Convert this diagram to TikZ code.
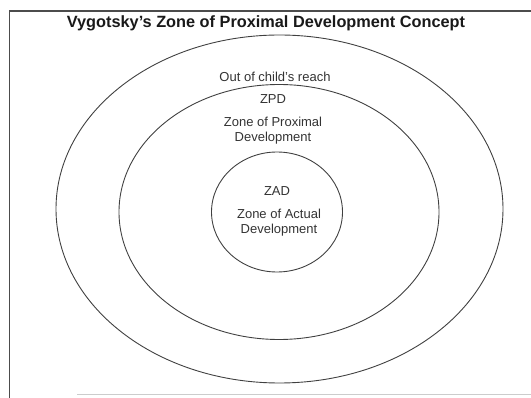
\documentclass[tikz,border=0pt]{standalone}
\usepackage{fontspec}
\setmainfont{Liberation Sans}
\begin{document}
\begin{tikzpicture}[x=1pt,y=1pt,yscale=-1,xscale=1,
    ring/.style={draw=black!75, line width=0.9pt},
    zonetext/.style={text=black!80, font=\fontsize{13}{15}\selectfont, align=center, inner sep=0.75pt},
    headtext/.style={text=black!90, font=\fontsize{16.3}{19}\selectfont\bfseries, inner sep=0.75pt}]
    \useasboundingbox (0,0) rectangle (531,398);

    %Shape: Frame
    \draw [black!70, line width=1.2pt] (531,11) -- (9.5,11) -- (9.5,398) ;
    \draw [black!20, line width=1pt] (77,395) -- (531,395) ;

    %Shape: Ellipse (out of reach)
    \draw [ring] (279.5,209) ellipse [x radius=223.5, y radius=174] ;
    %Shape: Ellipse (ZPD)
    \draw [ring] (279,212) ellipse [x radius=160, y radius=127.5] ;
    %Shape: Ellipse (ZAD)
    \draw [ring] (277,212) ellipse [x radius=65.5, y radius=60] ;

    % Text Node
    \node [headtext] (heading) at (266,23) {Vygotsky's Zone of Proximal Development Concept};
    % Text Node
    \node [zonetext] (reach) at (275,77) {Out of child's reach};
    % Text Node
    \node [zonetext] (zpd) at (273,99) {ZPD};
    % Text Node
    \node [zonetext] (zpdname) at (273,131) {Zone of Proximal\\Development};
    % Text Node
    \node [zonetext] (zad) at (277,191) {ZAD};
    % Text Node
    \node [zonetext] (zadname) at (279,223) {Zone of Actual\\Development};
\end{tikzpicture}
\end{document}
